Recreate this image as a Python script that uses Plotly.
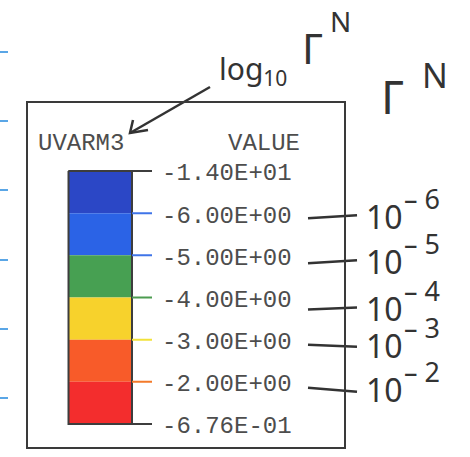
import plotly.graph_objects as go

# Contour legend for UVARM3 (log10 of Gamma^N), with hand annotations
LEVELS = [-14.0, -6.0, -5.0, -4.0, -3.0, -2.0, -0.676]
BAND_COLORS = ["#2b47c6", "#2b63e6", "#47a052", "#f7d22c", "#f85b29", "#f32d2d"]
TICK_COLORS = ["#3d3d3d", "#3f74e8", "#3f74e8", "#4c9c50", "#f2e23a", "#f37a2a", "#3d3d3d"]
HAND_EXPONENTS = [-6, -5, -4, -3, -2]          # Gamma^N = 10^level at levels 1..5
HAND_LINE_DY = [(5, 2), (8, 5), (12, 10), (5, 7), (6, 10)]  # pen offsets below each level (px)

W, H = 470, 457
TOP_PX, BOT_PX = 171, 424
N_BANDS = len(BAND_COLORS)
UNIT = (BOT_PX - TOP_PX) / N_BANDS
PAD = 0.2
BAR_L, BAR_R = 68.5, 132
TICK_LEN = 20
LABEL_X = 160
INK = "#333333"
PRINT = "#4d4d4d"
MONO = "Liberation Mono, Courier New, monospace"
HAND = "Noto Sans, DejaVu Sans, sans-serif"


def fmt(v):
    return f"{v:.2E}"


fig = go.Figure()

# colour bands: one bar segment per contour interval
fig.add_trace(go.Bar(
    x=[(BAR_L + BAR_R) / 2] * N_BANDS, y=[1] * N_BANDS, base=list(range(N_BANDS)),
    width=BAR_R - BAR_L, marker=dict(color=BAND_COLORS, line=dict(width=0)),
    xaxis="x", yaxis="y2", hoverinfo="skip", showlegend=False,
))

# outline of the colour bar
fig.add_trace(go.Scatter(
    x=[BAR_L, BAR_L, BAR_R, BAR_R, BAR_L], y=[0, N_BANDS, N_BANDS, 0, 0],
    mode="lines", line=dict(color="#3d3d3d", width=2),
    xaxis="x", yaxis="y2", hoverinfo="skip", showlegend=False,
))

# level ticks and value labels
for j, v in enumerate(LEVELS):
    x0 = BAR_L if j in (0, len(LEVELS) - 1) else BAR_R
    fig.add_trace(go.Scatter(
        x=[x0, BAR_R + TICK_LEN], y=[j, j], mode="lines",
        line=dict(color=TICK_COLORS[j], width=2),
        xaxis="x", yaxis="y2", hoverinfo="skip", showlegend=False,
    ))
    fig.add_annotation(
        x=LABEL_X, y=j, xref="x", yref="y2", text=fmt(v), showarrow=False,
        xanchor="left", yanchor="middle", yshift=-3,
        font=dict(family=MONO, size=24, color=PRINT),
    )

# hand-drawn connectors and powers of ten
for k, e in enumerate(HAND_EXPONENTS):
    j = k + 1
    dl, dr = HAND_LINE_DY[k]
    fig.add_trace(go.Scatter(
        x=[308, 357], y=[j + dl / UNIT, j + dr / UNIT], mode="lines",
        line=dict(color=INK, width=2.5),
        xaxis="x", yaxis="y2", hoverinfo="skip", showlegend=False,
    ))
    yc = j + (dl + dr) / 2 / UNIT
    fig.add_annotation(
        x=364, y=yc, xref="x", yref="y2", text="10", showarrow=False,
        xanchor="left", yanchor="middle",
        font=dict(family=HAND, size=32, color=INK),
    )
    fig.add_annotation(
        x=402, y=yc, xref="x", yref="y2", text=f"\u2013 {abs(e)}", showarrow=False,
        xanchor="left", yanchor="middle", yshift=18,
        font=dict(family=HAND, size=27, color=INK),
    )

# legend headings
fig.add_annotation(x=36, y=143, xref="x", yref="y", text="UVARM3", showarrow=False,
                   xanchor="left", yanchor="middle", font=dict(family=MONO, size=24, color=PRINT))
fig.add_annotation(x=226, y=143, xref="x", yref="y", text="VALUE", showarrow=False,
                   xanchor="left", yanchor="middle", font=dict(family=MONO, size=24, color=PRINT))

# handwritten title and arrow
fig.add_annotation(x=217, y=70, xref="x", yref="y", text="log<sub>10</sub>", showarrow=False,
                   xanchor="left", yanchor="middle", font=dict(family=HAND, size=30, color=INK))
fig.add_annotation(x=300, y=47, xref="x", yref="y", text="\u0393", showarrow=False,
                   xanchor="left", yanchor="middle", font=dict(family=HAND, size=42, color=INK))
fig.add_annotation(x=328, y=21, xref="x", yref="y", text="N", showarrow=False,
                   xanchor="left", yanchor="middle", font=dict(family=HAND, size=28, color=INK))
fig.add_annotation(x=379, y=96, xref="x", yref="y", text="\u0393", showarrow=False,
                   xanchor="left", yanchor="middle", font=dict(family=HAND, size=46, color=INK))
fig.add_annotation(x=420, y=75, xref="x", yref="y", text="N", showarrow=False,
                   xanchor="left", yanchor="middle", font=dict(family=HAND, size=34, color=INK))

fig.add_trace(go.Scatter(
    x=[210, 130, None, 133, 130, 148], y=[87, 133, None, 120, 133, 130],
    mode="lines", line=dict(color=INK, width=2.5),
    xaxis="x", yaxis="y", hoverinfo="skip", showlegend=False,
))

# legend frame
fig.add_shape(type="rect", x0=27, y0=102, x1=345, y1=448, xref="x", yref="y",
              line=dict(color="#3a3a3a", width=2))

y2_top = TOP_PX - PAD * UNIT
y2_bot = BOT_PX + PAD * UNIT
fig.update_layout(
    width=W, height=H, margin=dict(l=0, r=0, t=0, b=0),
    paper_bgcolor="white", plot_bgcolor="rgba(0,0,0,0)", showlegend=False,
    xaxis=dict(range=[0, W], domain=[0, 1], visible=False, fixedrange=True),
    yaxis=dict(range=[H, 0], domain=[0, 1], showgrid=False, zeroline=False,
               showline=False, showticklabels=False, ticks="inside", ticklen=8,
               tickwidth=2, tickcolor="#5aa6e6", tick0=121, dtick=69.25,
               tickmode="linear", fixedrange=True),
    yaxis2=dict(range=[N_BANDS + PAD, -PAD], domain=[(H - y2_bot) / H, (H - y2_top) / H],
                anchor="x", visible=False, fixedrange=True),
)

fig.write_html("out.html")
